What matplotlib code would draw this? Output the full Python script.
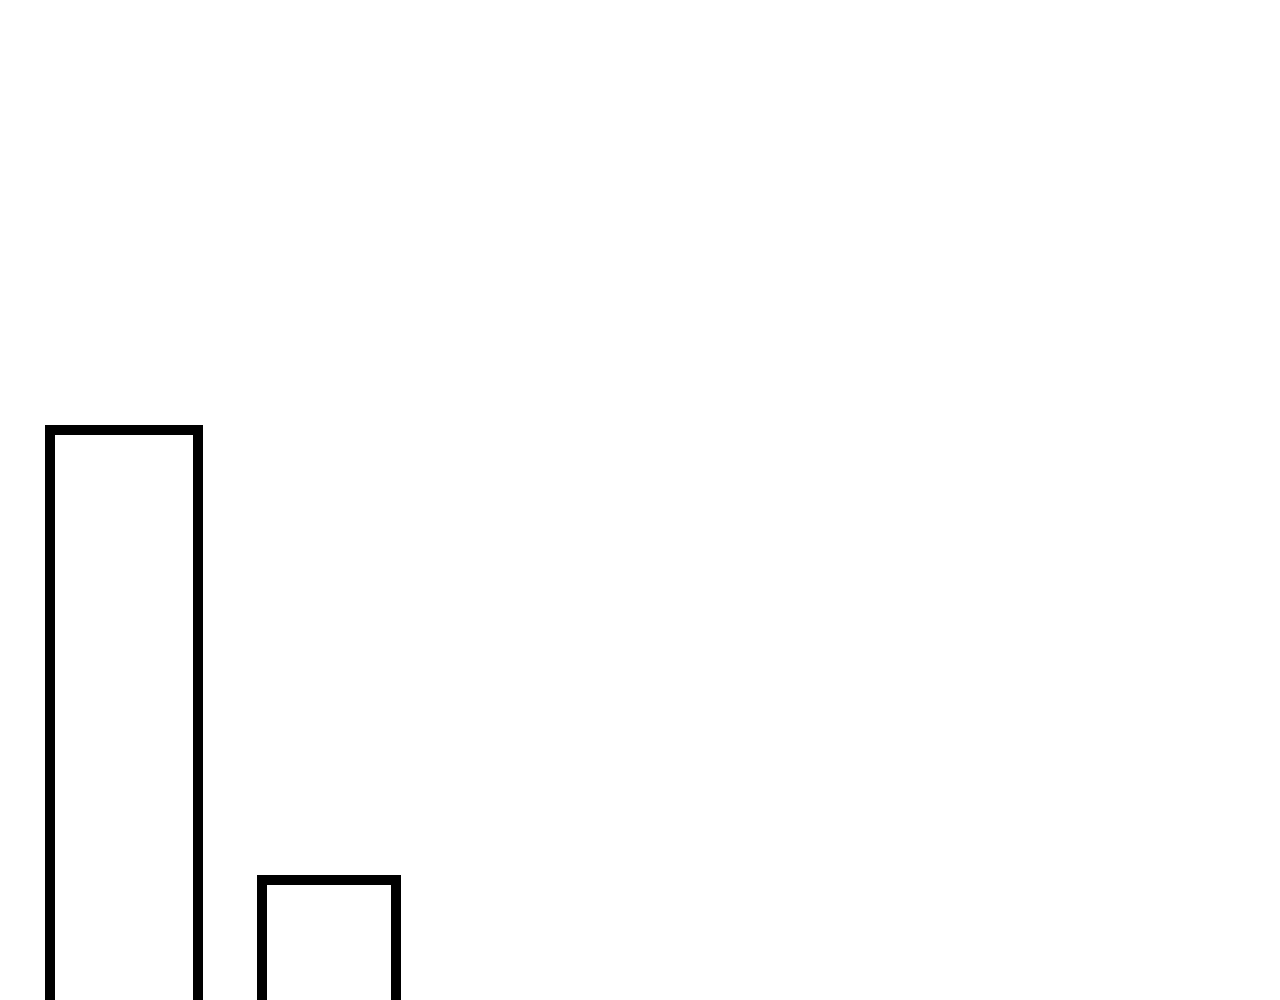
import matplotlib
matplotlib.use("Agg")
import matplotlib.pyplot as plt

# Data
categories = ["A", "B"]
positions = [12.4, 32.9]
widths = [14.8, 13.4]
values = [62, 17]

fig = plt.figure(figsize=(12.8, 10), dpi=100)
ax = fig.add_axes([0, 0, 1, 1])
bars = ax.bar(positions, values, width=widths, facecolor="white",
              edgecolor="black", linewidth=7.2)
for b in bars:
    b.set_joinstyle("miter")
ax.set_xlim(0, 128)
ax.set_ylim(5, 105)
ax.axis("off")
fig.savefig("out.png", dpi=100, facecolor="white")
